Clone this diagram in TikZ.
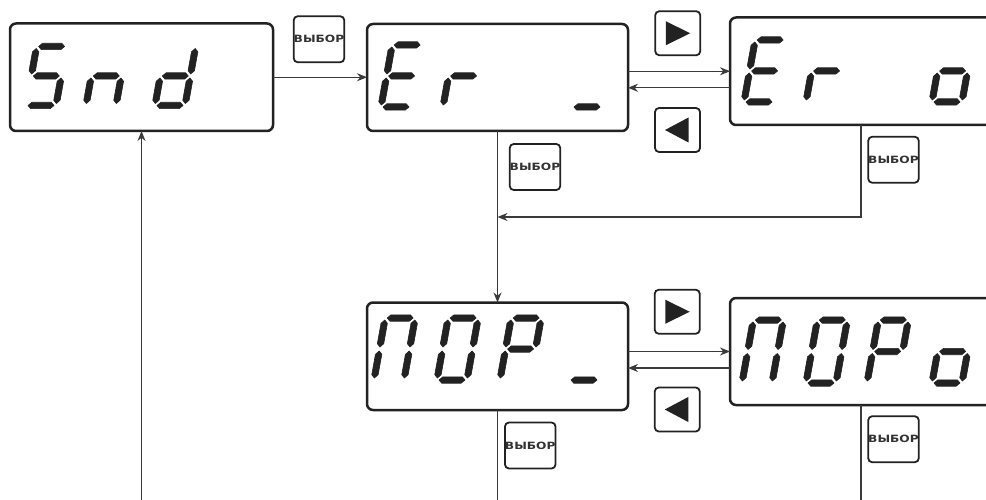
\documentclass[tikz,border=0pt]{standalone}
\usepackage{fontspec}
\usepackage{graphicx}
\newfontfamily\btnfont{DejaVu Sans}
\usetikzlibrary{arrows.meta}
\definecolor{ink}{HTML}{222222}
\definecolor{wire}{HTML}{3A3A3A}
\definecolor{btxt}{HTML}{333333}

\tikzset{
 disp/.style={draw=ink, line width=2.5pt, rounded corners=6pt, inner sep=0pt, outer sep=0pt, anchor=north west},
 btn/.style={draw=ink, line width=1.8pt, rounded corners=4pt, inner sep=0pt, outer sep=0pt, minimum width=46pt, minimum height=46pt, text=btxt},
 abtn/.style={draw=ink, line width=1.8pt, rounded corners=4pt, inner sep=0pt, outer sep=0pt, minimum width=45pt, minimum height=44pt},
 wire/.style={draw=wire, line width=1.3pt},
 arr/.style={wire, -{Stealth[length=10pt,width=8pt]}},
 segm/.style={fill=ink, draw=ink, line width=0.6pt, line join=round}
}

\newcommand\hseg[3]{\fill[segm] ({#1},{#3}) -- ({#1+3.3},{#3+3.2}) -- ({#2-3.3},{#3+3.2}) -- ({#2},{#3}) -- ({#2-3.3},{#3-3.2}) -- ({#1+3.3},{#3-3.2}) -- cycle;}
\newcommand\vseg[3]{\fill[segm] ({#1},{#2}) -- ({#1+3.2},{#2+3.3}) -- ({#1+3.2},{#3-3.3}) -- ({#1},{#3}) -- ({#1-3.2},{#3-3.3}) -- ({#1-3.2},{#2+3.3}) -- cycle;}
\newcommand\dsga{\hseg{2}{28}{\dH}}
\newcommand\dsgb{\vseg{30}{\dH/2+2}{\dH-2}}
\newcommand\dsgc{\vseg{30}{2}{\dH/2-2}}
\newcommand\dsgd{\hseg{2}{28}{0}}
\newcommand\dsge{\vseg{0}{2}{\dH/2-2}}
\newcommand\dsgf{\vseg{0}{\dH/2+2}{\dH-2}}
\newcommand\dsgg{\hseg{2}{28}{\dH/2}}
\newcommand\sevseg[4]{%
 \begin{scope}[shift={(#1,-#2)}, xslant=0.18]
 \def\dH{#3}%
 \foreach \s in {#4}{\csname dsg\s\endcsname}
 \end{scope}}
\newcommand\btntext{\scalebox{1.22}[1]{\btnfont\bfseries\fontsize{10}{10}\selectfont ВЫБОР}}

\begin{document}
\begin{tikzpicture}[x=1pt,y=1pt]
\useasboundingbox (0,0) rectangle (986,-500);
\clip (0,0) rectangle (986,-500);

% display boxes
\node[disp, minimum width=263pt, minimum height=107.5pt] (snd) at (10,-23.5) {};
\node[disp, minimum width=261pt, minimum height=107pt] (er1) at (367,-24) {};
\node[disp, minimum width=270pt, minimum height=107.5pt] (er2) at (730,-17.5) {};
\node[disp, minimum width=261pt, minimum height=107.5pt] (por1) at (367,-302.5) {};
\node[disp, minimum width=270pt, minimum height=107pt] (por2) at (730,-298) {};

% digits
\sevseg{26}{105.5}{59}{a,f,g,c,d}
\sevseg{86}{105.5}{59}{e,g,c}
\sevseg{155}{105.5}{59}{b,c,d,e,g}

\sevseg{381}{107}{62}{a,d,e,f,g}
\sevseg{443}{107}{62}{e,g}
\sevseg{572}{107}{62}{d}

\sevseg{744}{102}{62}{a,d,e,f,g}
\sevseg{806}{102}{62}{e,g}
\sevseg{932}{102}{62}{c,d,e,g}

\sevseg{374}{380}{62}{a,b,c,e,f}
\sevseg{437}{380}{62}{a,b,c,d,e,f}
\sevseg{500}{380}{62}{a,b,e,f,g}
\sevseg{569}{380}{62}{d}

\sevseg{742}{383}{63}{a,b,c,e,f}
\sevseg{806}{383}{63}{a,b,c,d,e,f}
\sevseg{867}{383}{63}{a,b,e,f,g}
\sevseg{932}{383}{63}{c,d,e,g}

% buttons
\node[btn] (b1) at (319,-39.25) {\btntext};
\node[btn] (b2) at (535,-167) {\btntext};
\node[btn] (b3) at (893.5,-159.75) {\btntext};
\node[btn] (b4) at (530.25,-445.5) {\btntext};
\node[btn] (b5) at (893.5,-439.25) {\btntext};

\node[abtn] (r1) at (677.75,-33.25) {};
\node[abtn] (l1) at (677.5,-130) {};
\node[abtn] (r2) at (677.25,-311.75) {};
\node[abtn] (l2) at (677.25,-409.5) {};
\fill[ink, shift={(r1.center)}] (-12,12) -- (-12,-12) -- (12.5,0) -- cycle;
\fill[ink, shift={(r2.center)}] (-12,12) -- (-12,-12) -- (12.5,0) -- cycle;
\fill[ink, shift={(l1.center)}] (11,12.5) -- (11,-12.5) -- (-12.5,0) -- cycle;
\fill[ink, shift={(l2.center)}] (11,12.5) -- (11,-12.5) -- (-12.5,0) -- cycle;

% connector end points
\coordinate (er2back) at ([yshift=-16.5pt]er2.west);
\coordinate (por2back) at ([yshift=-16.5pt]por2.west);
\coordinate (er2down) at ([xshift=131pt]er2.south west);
\coordinate (por2down) at ([xshift=131pt]por2.south west);
\coordinate (join) at (497.5,-217);
\coordinate (out1) at (497.5,-500);
\coordinate (out2) at (861,-500);
\coordinate (ret) at (141.5,-500);

% connectors
\draw[arr] (snd.east) -- (er1.west |- snd.east);
\draw[arr] (er1.east |- er2.west) -- (er2.west);
\draw[arr] (er2back) -- (er1.east |- er2back);
\draw[arr] (er1.south) -- (por1.north);
\draw[arr] (er2down) |- (join);
\draw[arr] (por1.east |- por2.west) -- (por2.west);
\draw[arr] (por2back) -- (por1.east |- por2back);
\draw[wire] (por1.south) -- (out1);
\draw[wire] (por2down) -- (out2);
\draw[arr] (ret) -- (ret |- snd.south);
\end{tikzpicture}
\end{document}
